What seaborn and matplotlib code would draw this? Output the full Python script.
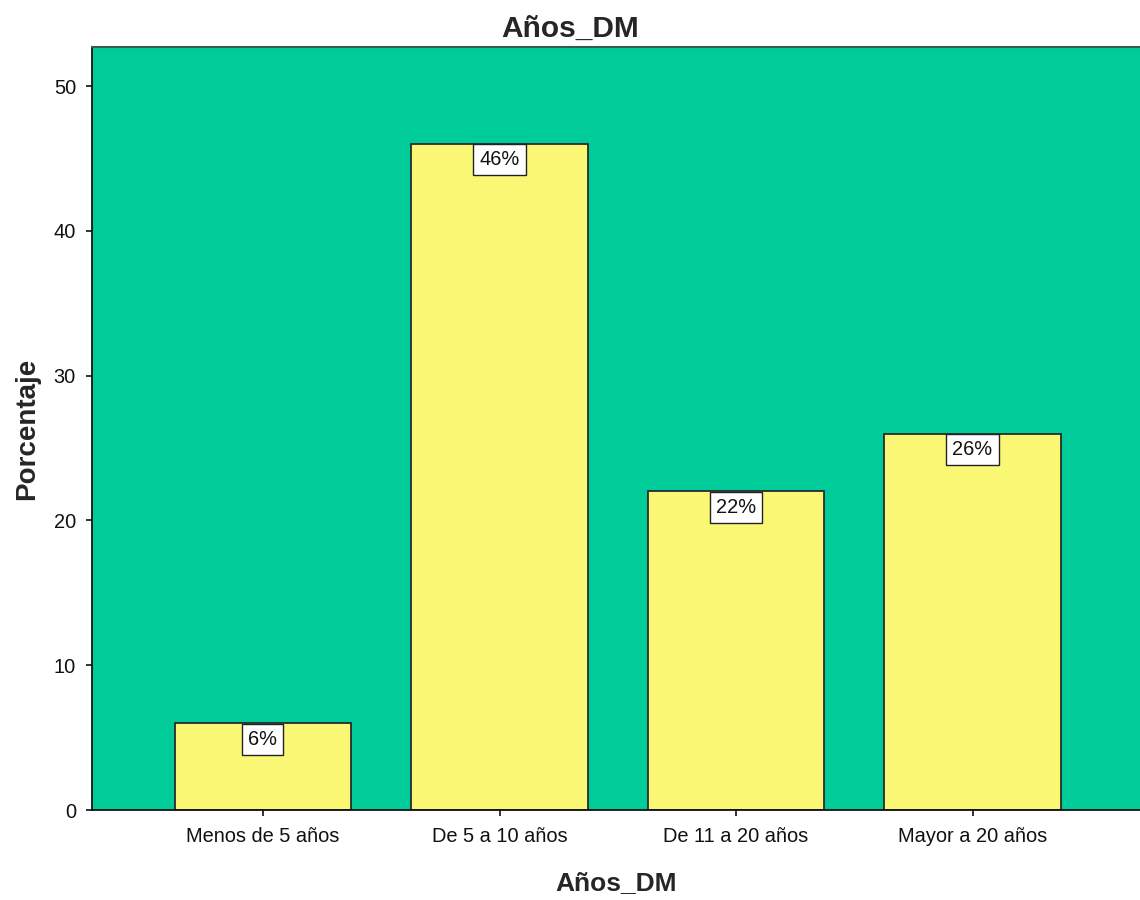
import matplotlib
matplotlib.use("Agg")
import matplotlib.pyplot as plt
import seaborn as sns
import pandas as pd

# Percentage of cases by years since diagnosis
categories = ["Menos de 5 años", "De 5 a 10 años", "De 11 a 20 años", "Mayor a 20 años"]
percentages = [6, 46, 22, 26]
y_ticks = [0, 10, 20, 30, 40, 50]

sns.set_style("ticks")
plt.rcParams["font.family"] = ["Liberation Sans", "DejaVu Sans"]

df = pd.DataFrame({"cat": categories, "pct": percentages})

fig = plt.figure(figsize=(11.4, 9), dpi=100)
ax = fig.add_axes([0.0807, 0.1, 0.9193, 0.8478])
ax.set_facecolor("#00CC99")

sns.barplot(data=df, x="cat", y="pct", color="#FAF774", saturation=1,
            width=0.745, edgecolor="#2b2b2b", linewidth=1.3, ax=ax)

for i, v in enumerate(percentages):
    ax.annotate(f"{v}%", xy=(i, v), xytext=(0, -4.6), textcoords="offset points",
                ha="center", va="top", fontsize=14.4, color="#111111",
                bbox=dict(boxstyle="square,pad=0.3", fc="white", ec="#222222", lw=1.0))

ax.set_xlim(-0.723, 3.708)
ax.set_ylim(0, 52.7)
ax.set_yticks(y_ticks)
ax.tick_params(axis="both", labelsize=14.4, length=4, width=1.2, colors="#111111")
ax.tick_params(axis="x", pad=8)
ax.tick_params(axis="y", pad=7.5)

fig.suptitle("Años_DM", x=0.5, y=0.983, fontsize=21.5, fontweight="bold", va="top")
ax.set_xlabel("Años_DM", fontsize=19, fontweight="bold", labelpad=18)
ax.set_ylabel("Porcentaje", fontsize=20, fontweight="bold", labelpad=10)

for s in ["left", "bottom"]:
    ax.spines[s].set_color("#111111")
    ax.spines[s].set_linewidth(1.3)
ax.spines["top"].set_color("#3a5a50")
ax.spines["top"].set_linewidth(1.5)
ax.spines["right"].set_visible(False)

fig.savefig("out.png", dpi=100)
